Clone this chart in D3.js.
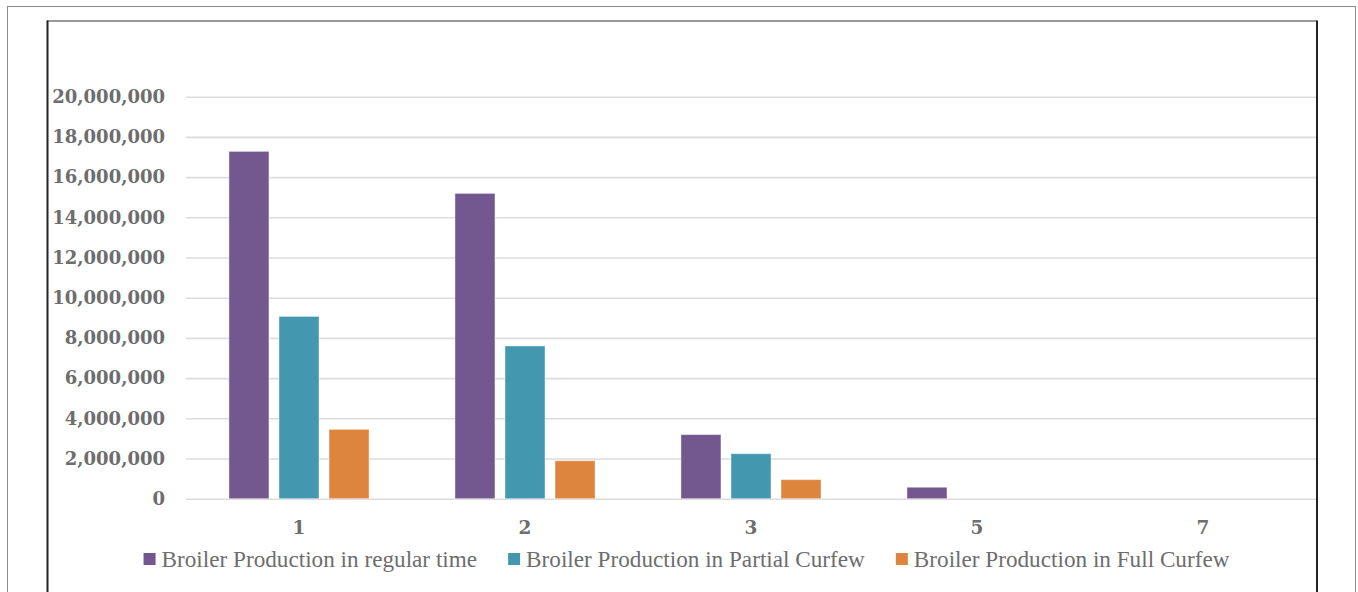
<!DOCTYPE html>
<html>
<head>
<meta charset="utf-8">
<script src="https://cdn.jsdelivr.net/npm/d3@7"></script>
<style>
  html, body { margin: 0; padding: 0; background: #fff; }
  svg { display: block; }
</style>
</head>
<body>
<svg id="chart" width="1358" height="592"></svg>
<script>
// Broiler production by category under different curfew conditions
const categories = ["1", "2", "3", "5", "7"];
const seriesNames = [
  "Broiler Production in regular time",
  "Broiler Production in Partial Curfew",
  "Broiler Production in Full Curfew"
];
const regularTime   = [17280000, 15190000, 3190000, 570000, 0];
const partialCurfew = [9070000, 7600000, 2240000, 0, 0];
const fullCurfew    = [3450000, 1890000, 950000, 0, 0];
const seriesColors  = ["#72588e", "#4398af", "#dd843e"];
const yTicks = [0, 2000000, 4000000, 6000000, 8000000, 10000000,
                12000000, 14000000, 16000000, 18000000, 20000000];

const seriesValues = [regularTime, partialCurfew, fullCurfew];
const svg = d3.select("#chart");

// Frames
svg.append("rect")
  .attr("x", 7.5).attr("y", 6.5)
  .attr("width", 1348).attr("height", 620)
  .attr("fill", "none").attr("stroke", "#8a8a8a").attr("stroke-width", 1);
svg.append("line")
  .attr("x1", 47).attr("x2", 1317).attr("y1", 21).attr("y2", 21)
  .attr("stroke", "#777").attr("stroke-width", 1.5);
svg.append("line")
  .attr("x1", 47.5).attr("x2", 47.5).attr("y1", 20.5).attr("y2", 600)
  .attr("stroke", "#222").attr("stroke-width", 2);
svg.append("line")
  .attr("x1", 1317).attr("x2", 1317).attr("y1", 20.5).attr("y2", 600)
  .attr("stroke", "#222").attr("stroke-width", 2);

const plot = { left: 186, right: 1316, top: 96.7, bottom: 498.7 };

const y = d3.scaleLinear().domain([0, 20000000]).range([plot.bottom, plot.top]);
const x = d3.scaleBand().domain(categories)
  .range([plot.left, plot.right])
  .paddingInner(0.38).paddingOuter(0.19);
const xs = d3.scaleBand().domain(d3.range(seriesNames.length))
  .range([0, x.bandwidth()])
  .paddingInner(0.2).paddingOuter(0);

const fmt = d3.format(",");
const labelColor = "#6d6d6d";

// Gridlines + y tick labels via axis
const yAxis = d3.axisLeft(y)
  .tickValues(yTicks)
  .tickSize(-(plot.right - plot.left))
  .tickPadding(21)
  .tickFormat(d => fmt(d));
const gy = svg.append("g")
  .attr("transform", `translate(${plot.left},0)`)
  .call(yAxis);
gy.select(".domain").remove();
gy.selectAll(".tick line")
  .attr("stroke", "#dcdcdc").attr("stroke-width", 1.6);
gy.selectAll(".tick text")
  .attr("fill", labelColor)
  .style("font-family", "'DejaVu Serif', serif")
  .style("font-weight", "bold")
  .style("font-size", "18px");

// Bars
const groups = svg.append("g").selectAll("g")
  .data(categories)
  .join("g")
  .attr("transform", d => `translate(${x(d)},0)`);

groups.selectAll("rect")
  .data((c, i) => seriesValues.map((vals, s) => ({ s, v: vals[i] })))
  .join("rect")
  .filter(d => d.v > 0)
  .attr("x", d => xs(d.s))
  .attr("width", xs.bandwidth())
  .attr("y", d => y(d.v))
  .attr("height", d => y(0) - y(d.v))
  .attr("fill", d => seriesColors[d.s])
  .attr("stroke", "rgba(255,255,255,0.45)")
  .attr("stroke-width", 1);

// Category axis labels
const xAxis = d3.axisBottom(x).tickSize(0).tickPadding(0);
const gx = svg.append("g")
  .attr("transform", `translate(0,${plot.bottom})`)
  .call(xAxis);
gx.select(".domain").remove();
gx.selectAll(".tick text")
  .attr("dy", null)
  .attr("y", 35)
  .attr("fill", labelColor)
  .style("font-family", "'DejaVu Serif', serif")
  .style("font-weight", "bold")
  .style("font-size", "18.5px");

// Legend
const legend = svg.append("g");
const items = legend.selectAll("g")
  .data(seriesNames)
  .join("g");
items.append("rect")
  .attr("width", 12).attr("height", 12)
  .attr("y", 553)
  .attr("fill", (d, i) => seriesColors[i]);
items.append("text")
  .attr("x", 18).attr("y", 566.5)
  .attr("fill", labelColor)
  .style("font-family", "'Liberation Serif', serif")
  .style("font-size", "23.2px")
  .text(d => d);

const gap = 31;
const widths = [];
items.each(function () {
  widths.push(18 + d3.select(this).select("text").node().getComputedTextLength());
});
const total = d3.sum(widths) + gap * (widths.length - 1);
let cx = 686.5 - total / 2;
items.each(function (d, i) {
  d3.select(this).select("rect").attr("x", cx);
  d3.select(this).select("text").attr("x", cx + 18);
  cx += widths[i] + gap;
});
</script>
</body>
</html>
